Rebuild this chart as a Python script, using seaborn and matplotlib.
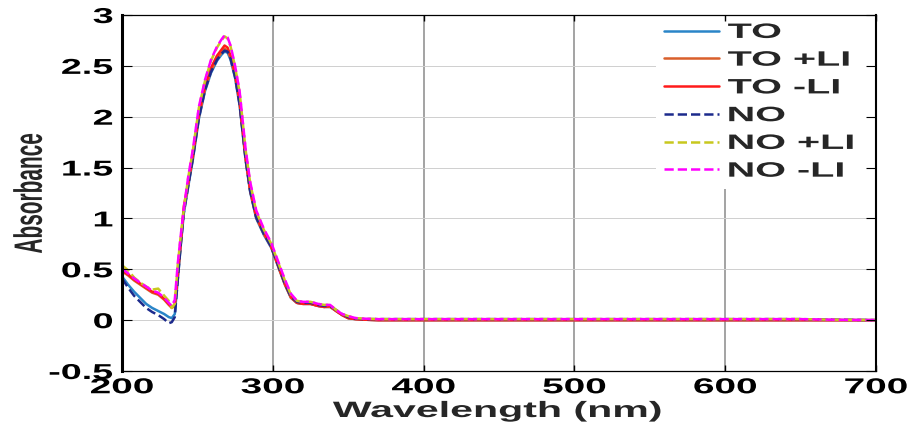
import matplotlib
matplotlib.use("Agg")
import matplotlib.pyplot as plt
import seaborn as sns
from matplotlib.patheffects import AbstractPathEffect
from matplotlib.transforms import Affine2D

# ---------------- data ----------------
wavelength = [200, 204, 208, 212, 216, 220, 224, 228, 231, 233, 235, 237, 239, 241,
              244, 247, 251, 255, 259, 263, 266, 268, 270, 272, 275, 278, 282, 285,
              289, 294, 299, 304, 308, 312, 316, 320, 325, 330, 334, 338, 342, 346,
              350, 355, 360, 370, 400, 450, 500, 550, 600, 650, 670, 700]

to_plain = [0.43, 0.35, 0.28, 0.22, 0.16, 0.12, 0.09, 0.06, 0.03, 0.02, 0.06, 0.40, 0.74, 1.05,
            1.32, 1.58, 1.98, 2.25, 2.43, 2.55, 2.61, 2.64, 2.63, 2.56, 2.38, 2.11, 1.57, 1.26,
            1.00, 0.84, 0.71, 0.51, 0.35, 0.22, 0.17, 0.16, 0.16, 0.14, 0.13, 0.13, 0.09, 0.05,
            0.02, 0.01, 0.005, 0.0, 0.0, 0.0, 0.0, 0.0, 0.0, 0.0, 0.0, 0.0]

to_plus = [0.48, 0.44, 0.39, 0.35, 0.31, 0.27, 0.25, 0.20, 0.15, 0.12, 0.14, 0.43, 0.76, 1.08,
           1.34, 1.60, 2.00, 2.27, 2.45, 2.57, 2.63, 2.67, 2.65, 2.58, 2.40, 2.13, 1.58, 1.27,
           1.01, 0.85, 0.72, 0.51, 0.35, 0.22, 0.17, 0.16, 0.16, 0.14, 0.13, 0.13, 0.09, 0.05,
           0.02, 0.01, 0.005, 0.0, 0.0, 0.0, 0.0, 0.0, 0.0, 0.0, 0.0, 0.0]

to_minus = [0.49, 0.45, 0.40, 0.36, 0.32, 0.28, 0.26, 0.21, 0.16, 0.13, 0.15, 0.45, 0.78, 1.12,
            1.36, 1.62, 2.03, 2.30, 2.48, 2.60, 2.66, 2.70, 2.68, 2.60, 2.42, 2.15, 1.60, 1.28,
            1.02, 0.86, 0.72, 0.52, 0.36, 0.23, 0.17, 0.16, 0.16, 0.14, 0.13, 0.14, 0.09, 0.05,
            0.02, 0.01, 0.005, 0.0, 0.0, 0.0, 0.0, 0.0, 0.0, 0.0, 0.0, 0.0]

no_plain = [0.41, 0.32, 0.24, 0.18, 0.12, 0.08, 0.05, 0.01, -0.03, -0.02, 0.03, 0.40, 0.75, 1.06,
            1.33, 1.59, 1.99, 2.26, 2.44, 2.56, 2.62, 2.65, 2.64, 2.57, 2.39, 2.12, 1.58, 1.27,
            1.01, 0.85, 0.72, 0.52, 0.36, 0.23, 0.18, 0.17, 0.17, 0.15, 0.14, 0.14, 0.10, 0.06,
            0.03, 0.015, 0.01, 0.01, 0.01, 0.01, 0.01, 0.01, 0.01, 0.01, 0.005, 0.0]

no_plus = [0.54, 0.49, 0.42, 0.37, 0.33, 0.30, 0.31, 0.24, 0.19, 0.12, 0.16, 0.55, 0.83, 1.09,
           1.41, 1.67, 2.09, 2.35, 2.55, 2.68, 2.75, 2.79, 2.77, 2.69, 2.49, 2.24, 1.67, 1.35,
           1.07, 0.89, 0.75, 0.55, 0.39, 0.25, 0.19, 0.18, 0.18, 0.16, 0.15, 0.15, 0.10, 0.06,
           0.04, 0.02, 0.015, 0.01, 0.01, 0.01, 0.01, 0.01, 0.01, 0.01, 0.005, 0.0]

no_minus = [0.51, 0.46, 0.41, 0.37, 0.33, 0.29, 0.27, 0.22, 0.17, 0.14, 0.20, 0.56, 0.84, 1.10,
            1.42, 1.68, 2.10, 2.36, 2.56, 2.69, 2.76, 2.80, 2.78, 2.70, 2.50, 2.25, 1.68, 1.36,
            1.08, 0.90, 0.76, 0.56, 0.40, 0.26, 0.19, 0.18, 0.18, 0.16, 0.15, 0.15, 0.10, 0.06,
            0.04, 0.02, 0.015, 0.01, 0.01, 0.01, 0.01, 0.01, 0.01, 0.01, 0.005, 0.0]

series_names = ["TO", "TO +LI", "TO -LI", "NO", "NO +LI", "NO -LI"]
series_values = [to_plain, to_plus, to_minus, no_plain, no_plus, no_minus]
series_colors = ["#2a85c8", "#d95f2b", "#ff1a1a", "#1c2a8c", "#c8c81e", "#ff00ff"]
series_styles = ["-", "-", "-", "--", "--", "--"]

x_ticks = [200, 300, 400, 500, 600, 700]
y_ticks = [-0.5, 0, 0.5, 1, 1.5, 2, 2.5, 3]
y_tick_labels = ["-0.5", "0", "0.5", "1", "1.5", "2", "2.5", "3"]


# ---------------- horizontal text stretch (reference is stretched) ----------------
class HStretch(AbstractPathEffect):
    def __init__(self, sx=1.85, anchor="center"):
        super().__init__()
        self.sx = sx
        self.anchor = anchor

    def draw_path(self, renderer, gc, tpath, affine, rgbFace=None):
        ext = tpath.get_extents(affine)
        if self.anchor == "left":
            x0 = ext.x0
        elif self.anchor == "right":
            x0 = ext.x1
        else:
            x0 = 0.5 * (ext.x0 + ext.x1)
        t = affine + Affine2D().translate(-x0, 0).scale(self.sx, 1).translate(x0, 0)
        renderer.draw_path(gc, tpath, t, rgbFace)


sns.set_theme(style="white")
plt.rcParams["font.family"] = ["Liberation Sans", "DejaVu Sans"]
plt.rcParams["font.weight"] = "bold"

W, H = 912, 425
fig = plt.figure(figsize=(W / 100, H / 100), dpi=100)
fig.patch.set_facecolor("white")
rect = [122 / W, (H - 371) / H, 754 / W, 356 / H]
ax = fig.add_axes(rect)
ax.set_facecolor("white")

for name, vals, col, ls in zip(series_names, series_values, series_colors, series_styles):
    sns.lineplot(x=wavelength, y=vals, ax=ax, color=col, linestyle=ls,
                 linewidth=1.8, label=name, sort=False)

ax.set_xlim(200, 700)
ax.set_ylim(-0.5, 3)
ax.set_xticks(x_ticks)
ax.set_xticklabels([str(v) for v in x_ticks])
ax.set_yticks(y_ticks)
ax.set_yticklabels(y_tick_labels)
ax.set_xlabel("")
ax.set_ylabel("")

ax.set_axisbelow(True)
ax.grid(axis="x", color="#8a8a8a", linewidth=1.1)
ax.grid(axis="y", color="#cfcfcf", linewidth=0.7)

ax.tick_params(axis="both", which="major", direction="in", length=0,
               labelsize=15.5, colors="black")
ax.tick_params(axis="x", pad=4.5)
ax.tick_params(axis="y", pad=6.5)
for lbl in ax.get_xticklabels() + ax.get_yticklabels():
    lbl.set_fontweight("bold")
for side in ["left", "right", "top", "bottom"]:
    ax.spines[side].set_visible(False)

# overlay axes carrying the box and inward ticks above the legend
ax2 = fig.add_axes(rect, sharex=ax, sharey=ax)
ax2.patch.set_visible(False)
ax2.grid(False)
ax2.tick_params(axis="both", which="major", direction="in", top=True, right=True,
                bottom=True, left=True, labelbottom=False, labelleft=False,
                colors="black")
ax2.tick_params(axis="x", length=4, width=1.0)
ax2.tick_params(axis="y", length=7, width=0.8)
for side, lw in [("left", 2.2), ("right", 1.5), ("top", 0.9), ("bottom", 0.9)]:
    ax2.spines[side].set_visible(True)
    ax2.spines[side].set_color("black")
    ax2.spines[side].set_linewidth(lw)

leg = ax.legend(loc="upper left", bbox_to_anchor=(534 / 754, 0, 220 / 754, 1.0),
                mode="expand", borderaxespad=0, frameon=True, fancybox=False,
                facecolor="white", edgecolor="none", framealpha=1.0,
                prop={"family": ["Liberation Sans", "DejaVu Sans"], "weight": "bold", "size": 15},
                handlelength=2.65, handletextpad=0.42, borderpad=0.38, labelspacing=0.42)
for t in leg.get_texts():
    t.set_path_effects([HStretch(1.9, "left")])

ylab = fig.text(42 / W, (H - 193) / H, "Absorbance", rotation=90, rotation_mode="anchor",
                ha="center", va="baseline", fontsize=15, fontweight="bold")
ylab.set_path_effects([HStretch(1.9, "right")])

xlab = fig.text(497 / W, (H - 417) / H, "Wavelength (nm)", ha="center", va="baseline",
                fontsize=16, fontweight="bold")
xlab.set_path_effects([HStretch(1.85, "center")])

fig.canvas.draw()
for lbl in ax.get_xticklabels():
    lbl.set_path_effects([HStretch(1.8, "center")])
for lbl in ax.get_yticklabels():
    lbl.set_path_effects([HStretch(1.75, "right")])

fig.savefig("out.png", dpi=100, facecolor="white")
